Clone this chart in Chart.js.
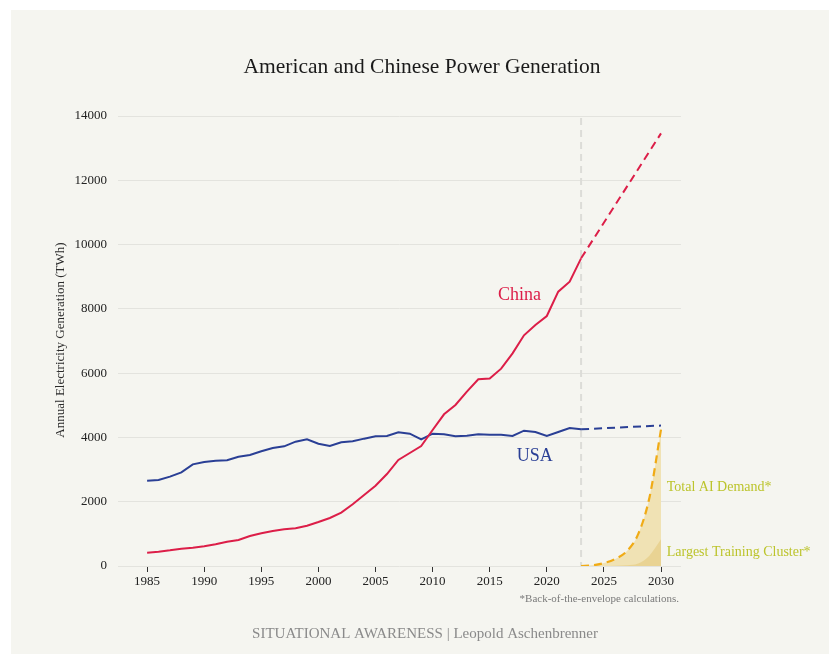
<!DOCTYPE html>
<html>
<head>
<meta charset="utf-8">
<script src="https://cdn.jsdelivr.net/npm/chart.js@4.4.1/dist/chart.umd.min.js"></script>
<style>
  html, body { margin: 0; padding: 0; background: #ffffff; }
  #panel { position: absolute; left: 11px; top: 10px; width: 818px; height: 644px; background: #f5f5f0; }
  #wrap { position: absolute; left: 0; top: 0; width: 829px; height: 654px; }
</style>
</head>
<body>
<div id="panel"></div>
<div id="wrap"><canvas id="powerChart" width="829" height="654"></canvas></div>
<script>
// historical generation, TWh
const years = [1985,1986,1987,1988,1989,1990,1991,1992,1993,1994,1995,1996,1997,1998,1999,
               2000,2001,2002,2003,2004,2005,2006,2007,2008,2009,2010,2011,2012,2013,2014,
               2015,2016,2017,2018,2019,2020,2021,2022,2023];
const chinaValues = [415,446,487,539,570,612,674,757,809,933,1016,1089,1141,1172,1255,
                     1369,1493,1659,1919,2209,2499,2862,3298,3516,3734,4231,4719,5009,5424,5809,
                     5830,6140,6617,7177,7498,7778,8535,8846,9572];
const usaValues = [2654,2675,2779,2914,3163,3236,3277,3288,3401,3454,3568,3671,3723,3868,3941,
                   3806,3734,3848,3879,3962,4034,4045,4159,4117,3941,4117,4096,4034,4055,4096,
                   4086,4086,4045,4210,4169,4045,4169,4293,4252];

// projections
const projYears = [2023, 2030];
const chinaProjection = [9572, 13460];
const usaProjection = [4252, 4370];

const aiYears = [2023,2024,2025,2026,2027,2028,2029,2030];
const aiDemand = [0,20,90,220,460,990,2150,4250];
const trainingCluster = [0,0,2,8,25,80,330,830];

const xTicks = [1985,1990,1995,2000,2005,2010,2015,2020,2025,2030];
const yTicks = [0,2000,4000,6000,8000,10000,12000,14000];
const cutoffYear = 2023;

const SERIF = "'Liberation Serif', 'DejaVu Serif', serif";
const RED = '#dc1e48';
const NAVY = '#2a3f95';
const ORANGE = '#f0ab16';
const LABEL_GREEN = '#bcc42c';

function pts(xs, ys){ return xs.map((x,i)=>({x:x, y:ys[i]})); }

const decor = {
    id: 'decor',
    beforeDatasetsDraw(chart){
        const {ctx, chartArea, scales} = chart;
        const x = scales.x.getPixelForValue(cutoffYear);
        ctx.save();
        ctx.strokeStyle = '#dcdcd8';
        ctx.lineWidth = 2;
        ctx.setLineDash([7,5]);
        ctx.beginPath();
        ctx.moveTo(x, chartArea.top + 2);
        ctx.lineTo(x, chartArea.bottom);
        ctx.stroke();
        ctx.restore();
    },
    afterDraw(chart){
        const {ctx, scales} = chart;
        const xs = scales.x, ys = scales.y;
        ctx.save();
        ctx.textBaseline = 'middle';

        ctx.textAlign = 'center';
        ctx.fillStyle = '#1a1a1a';
        ctx.font = '21.5px ' + SERIF;
        ctx.fillText('American and Chinese Power Generation', 422, 67);

        ctx.fillStyle = '#8a8a8a';
        ctx.font = '15px ' + SERIF;
        ctx.fillText('SITUATIONAL AWARENESS | Leopold Aschenbrenner', 425, 634);

        // y axis title
        ctx.save();
        ctx.translate(61, 340);
        ctx.rotate(-Math.PI/2);
        ctx.fillStyle = '#2a2a2a';
        ctx.font = '13px ' + SERIF;
        ctx.fillText('Annual Electricity Generation (TWh)', 0, 0);
        ctx.restore();

        // series labels
        ctx.font = '18px ' + SERIF;
        ctx.fillStyle = RED;
        ctx.fillText('China', xs.getPixelForValue(2017.6), ys.getPixelForValue(8420));
        ctx.fillStyle = NAVY;
        ctx.fillText('USA', xs.getPixelForValue(2018.95), ys.getPixelForValue(3420));

        ctx.textAlign = 'left';
        ctx.font = '14px ' + SERIF;
        ctx.fillStyle = LABEL_GREEN;
        ctx.fillText('Total AI Demand*', xs.getPixelForValue(2030.5), ys.getPixelForValue(2460));
        ctx.fillText('Largest Training Cluster*', xs.getPixelForValue(2030.5), ys.getPixelForValue(420));

        ctx.textAlign = 'right';
        ctx.font = '11px ' + SERIF;
        ctx.fillStyle = '#7a7a7a';
        ctx.fillText('*Back-of-the-envelope calculations.', 679, 599);
        ctx.restore();
    }
};

const ctx = document.getElementById('powerChart').getContext('2d');
new Chart(ctx, {
    type: 'line',
    data: {
        datasets: [
            // higher order is drawn first (underneath)
            {
                label: 'AI demand fill',
                data: pts(aiYears, aiDemand),
                borderWidth: 0,
                backgroundColor: '#f0e2b4',
                fill: 'origin',
                cubicInterpolationMode: 'monotone',
                order: 10
            },
            {
                label: 'Largest training cluster',
                data: pts(aiYears, trainingCluster),
                borderWidth: 0,
                backgroundColor: '#e9d393',
                fill: 'origin',
                cubicInterpolationMode: 'monotone',
                order: 9
            },
            {
                label: 'Total AI demand',
                data: pts(aiYears, aiDemand),
                borderColor: ORANGE,
                borderWidth: 2.2,
                borderDash: [8,5],
                fill: false,
                cubicInterpolationMode: 'monotone',
                order: 5
            },
            {
                label: 'USA',
                data: pts(years, usaValues),
                borderColor: NAVY,
                borderWidth: 2,
                fill: false,
                order: 4
            },
            {
                label: 'USA projection',
                data: pts(projYears, usaProjection),
                borderColor: NAVY,
                borderWidth: 2,
                borderDash: [8,5],
                fill: false,
                order: 3
            },
            {
                label: 'China',
                data: pts(years, chinaValues),
                borderColor: RED,
                borderWidth: 2,
                fill: false,
                order: 2
            },
            {
                label: 'China projection',
                data: pts(projYears, chinaProjection),
                borderColor: RED,
                borderWidth: 2,
                borderDash: [8,5],
                fill: false,
                order: 1
            }
        ]
    },
    options: {
        responsive: false,
        animation: false,
        events: [],
        elements: { point: { radius: 0 }, line: { tension: 0, borderCapStyle: 'butt' } },
        layout: { padding: { left: 0, right: 148, top: 116, bottom: 0 } },
        plugins: { legend: { display: false }, tooltip: { enabled: false }, title: { display: false } },
        scales: {
            x: {
                type: 'linear',
                min: 1982.45,
                max: 2031.75,
                afterBuildTicks: s => { s.ticks = xTicks.map(v => ({value: v})); },
                afterFit: s => { s.height = 88; },
                border: { display: false },
                grid: { drawOnChartArea: false, drawTicks: true, tickLength: 6, color: '#333333', lineWidth: 1 },
                ticks: { color: '#222222', padding: 2, font: { family: SERIF, size: 13 }, callback: v => String(v) }
            },
            y: {
                min: 0,
                max: 14000,
                afterBuildTicks: s => { s.ticks = yTicks.map(v => ({value: v})); },
                afterFit: s => { s.width = 118; },
                border: { display: false },
                grid: { color: '#e3e3de', lineWidth: 1, drawTicks: false },
                ticks: { color: '#222222', padding: 11, font: { family: SERIF, size: 13 }, callback: v => String(v) }
            }
        }
    },
    plugins: [decor]
});
</script>
</body>
</html>
